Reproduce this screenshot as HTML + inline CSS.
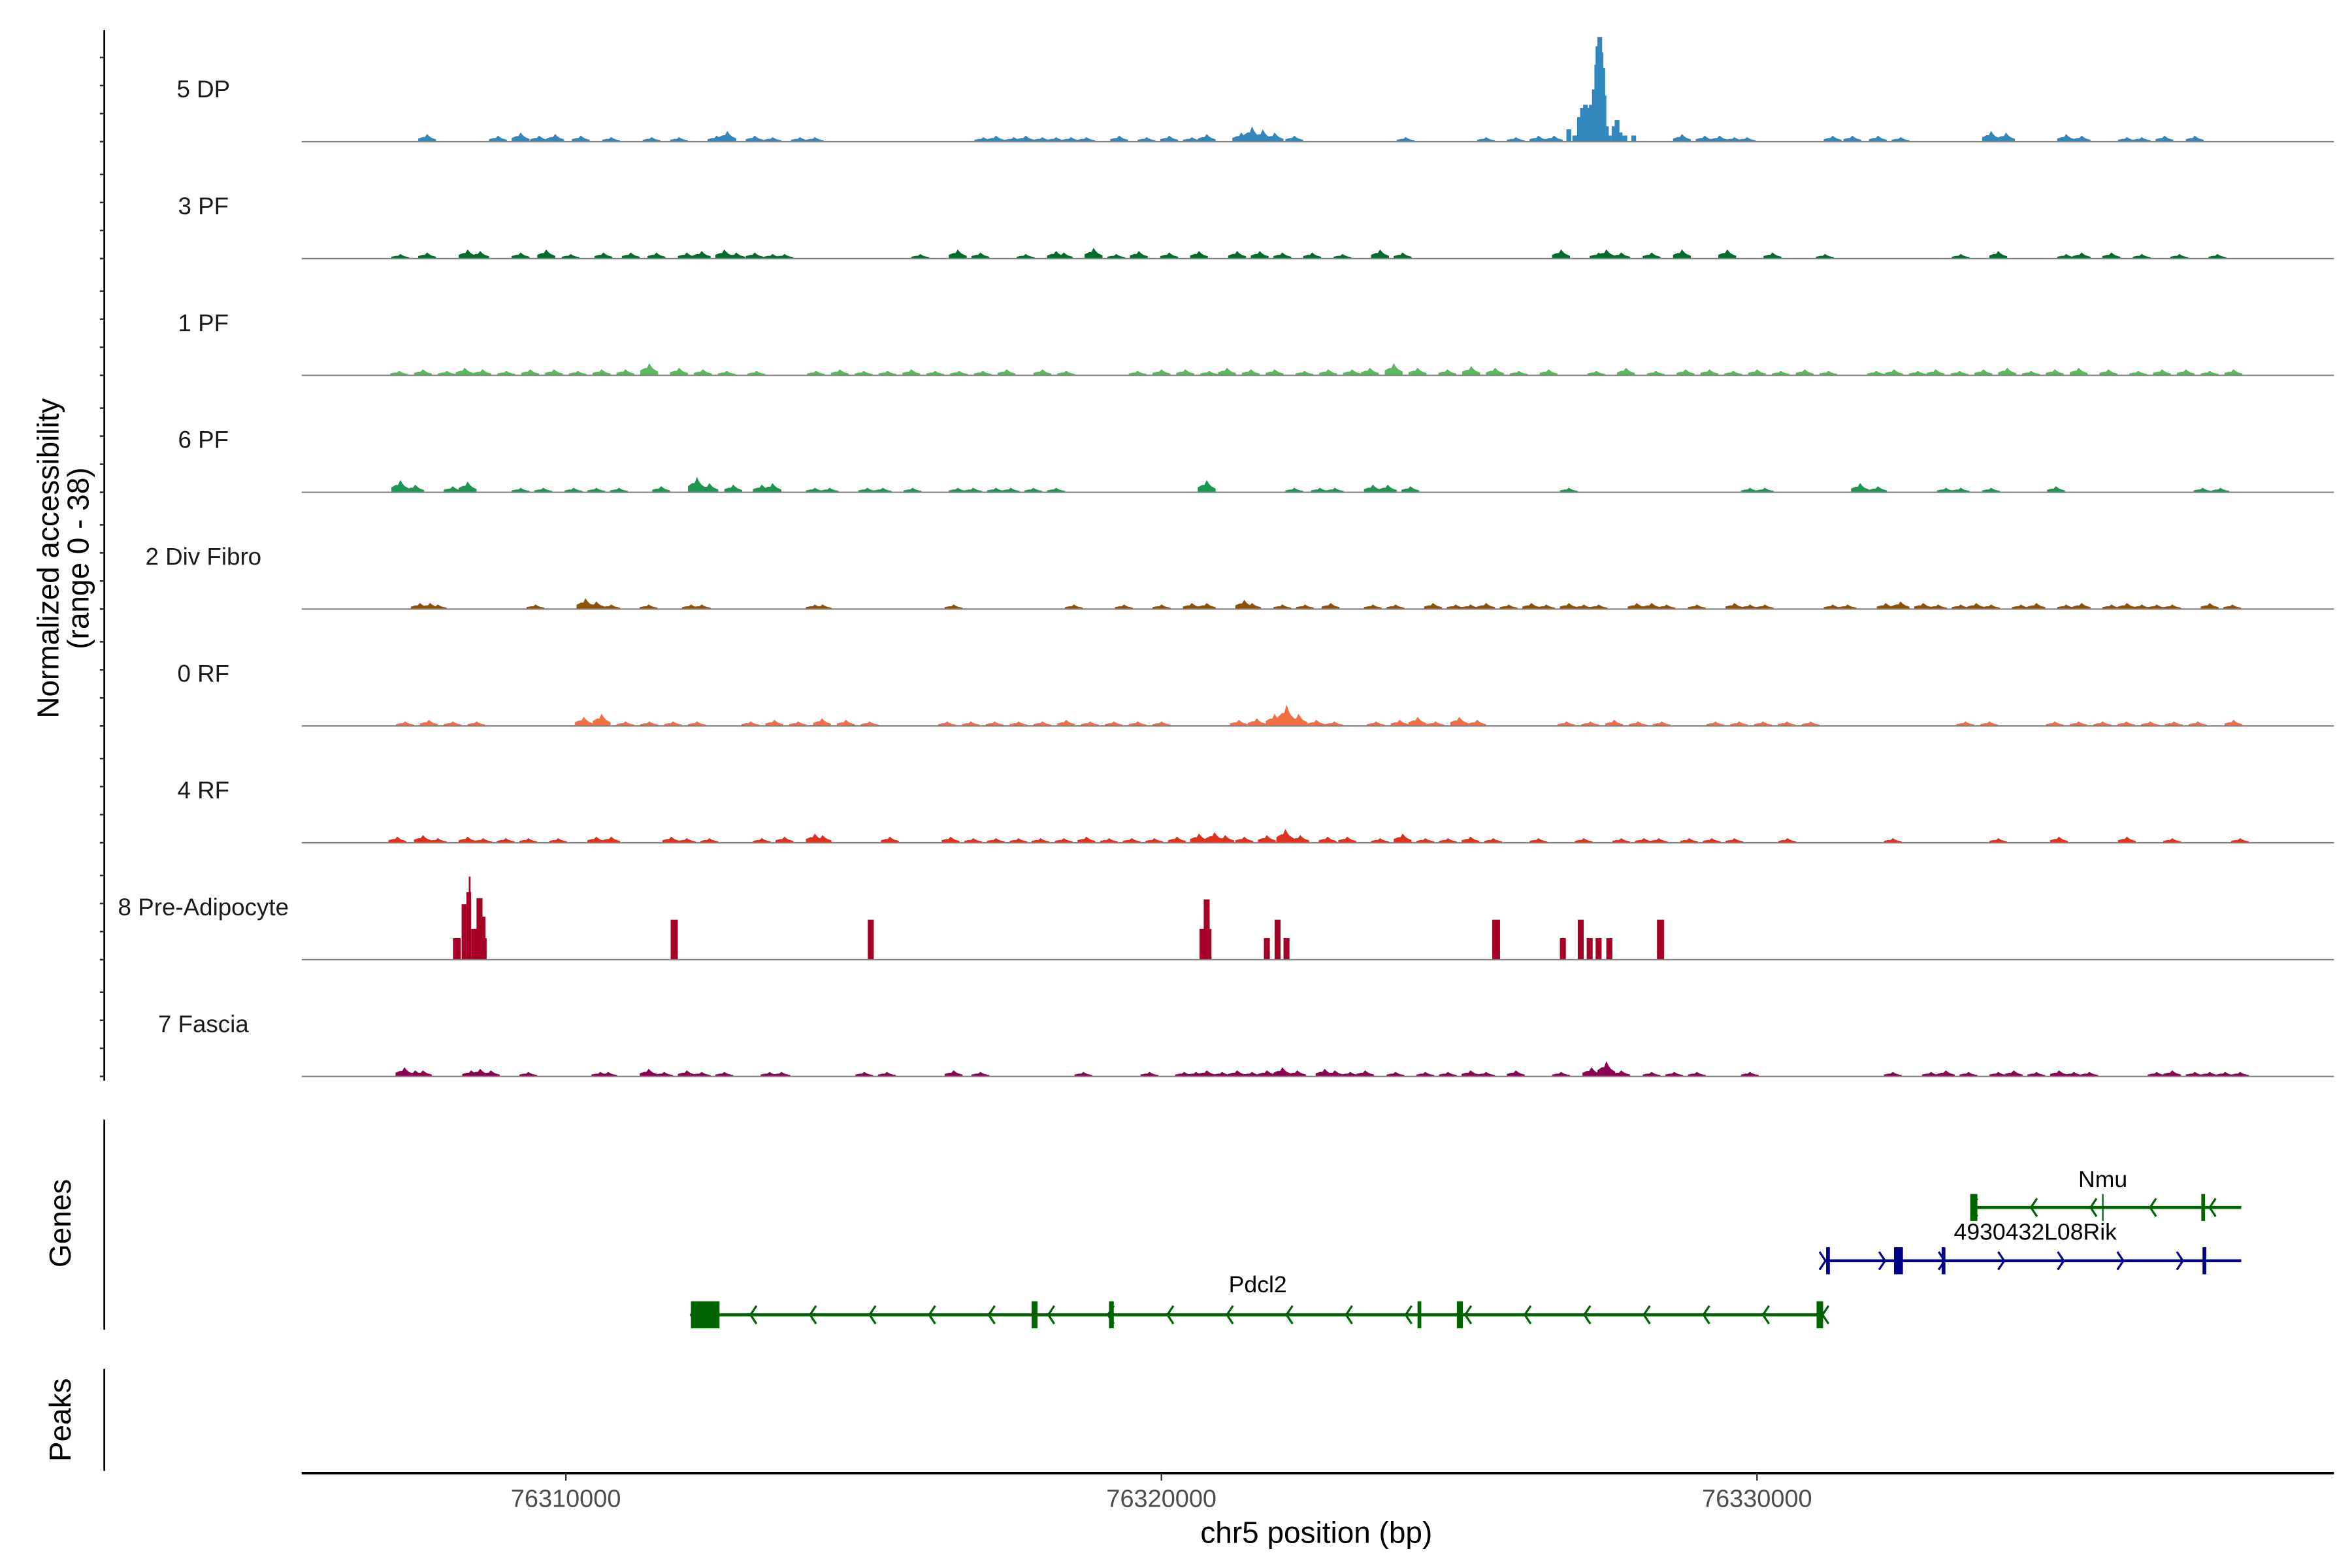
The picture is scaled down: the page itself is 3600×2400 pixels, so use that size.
<!DOCTYPE html>
<html><head><meta charset="utf-8"><style>
html,body{margin:0;padding:0;background:#fff}
svg{display:block}
text{font-family:"Liberation Sans",Arial,sans-serif}
</style></head><body>
<svg id="chart" xmlns="http://www.w3.org/2000/svg" width="3600" height="2400" viewBox="0 0 1567 1044.7" preserveAspectRatio="none">
<rect x="0" y="0" width="1567" height="1045" fill="#fff"/>
<g id="tracks"></g>
<g id="yaxis"></g>
<text transform="translate(39,372) rotate(-90)" text-anchor="middle" font-size="20" fill="#000">Normalized accessibility</text>
<text transform="translate(59,372) rotate(-90)" text-anchor="middle" font-size="20" fill="#000">(range 0 - 38)</text>
<line x1="69.5" y1="746" x2="69.5" y2="886" stroke="#000" stroke-width="1.2"/>
<text transform="translate(47,815) rotate(-90)" text-anchor="middle" font-size="20" fill="#000">Genes</text>
<line x1="69.5" y1="912" x2="69.5" y2="980" stroke="#000" stroke-width="1.2"/>
<text transform="translate(47,946) rotate(-90)" text-anchor="middle" font-size="20" fill="#000">Peaks</text>
<g id="genes"></g>
<g id="xaxis"></g>
<text x="877" y="1028" text-anchor="middle" font-size="20" fill="#000">chr5 position (bp)</text>
</svg>
<script>
// ---- data (positions in kb offset from chr5:76,300,000; heights in normalized units 0-38) ----
const trackNames = ["5 DP","3 PF","1 PF","6 PF","2 Div Fibro","0 RF","4 RF","8 Pre-Adipocyte","7 Fascia"];
const trackColors = ["#3288bd","#006d2c","#5cb85c","#1a9850","#8c510a","#f46d43","#e0301e","#a50026","#8e0152"];
const xTickValues = [76310000,76320000,76330000];
const xTickLabels = ["76310000","76320000","76330000"];

const dpPos = [7.67,8.86,9.24,9.55,9.82,10.25,10.76,11.44,11.90,12.53,12.71,13.17,13.47,13.93,14.18,17.01,17.22,17.52,17.72,18.0,18.23,18.48,18.74,19.29,19.75,20.13,20.51,20.76,21.34,21.52,21.7,21.90,22.23,24.10,25.45,25.95,26.33,26.59,28.74,29.12,29.37,29.62,29.83,31.27,31.60,32.03,32.41,33.93,34.18,35.19,35.45,36.21,36.46,36.84,37.35];
const dpH = [2.5,2,3,2,2.5,2,1.5,1.5,1.5,2,3.5,2,1.5,1.5,1.5,1.5,2,1.5,2,1.5,1.5,1.5,1.5,2,1.5,2,1.5,2.5,3,5,4,3,2,1.5,1.5,1.5,2,2,2.5,2,2,1.5,1.5,2,2,2,1.5,3.5,3,2.5,2,1.5,1.5,2,2];
const dpPeakPos = [26.84,26.94,27.02,27.07,27.12,27.17,27.22,27.27,27.31,27.33,27.36,27.38,27.41,27.43,27.47,27.52,27.60,27.65,27.70,27.78,27.93];
const dpPeakH = [4,2,8,11,12,11,12,17,25,31,34,29,24,15,5,2,5,7,3,2,2];

const pf3Pos = [7.22,7.67,8.35,8.56,9.24,9.67,10.08,10.63,11.09,11.52,12.03,12.28,12.66,12.86,13.17,13.47,13.67,15.95,16.58,16.96,17.72,18.23,18.36,18.86,19.24,19.62,20.13,20.63,21.27,21.65,22.03,22.53,23.04,23.67,24.05,26.71,27.34,27.47,27.72,28.23,28.74,29.50,30.26,31.14,33.42,34.05,35.19,35.45,35.95,36.46,37.09,37.73];
const pf3H = [1.5,2,3,2.5,2,3,1.5,2,2,2,2,2.5,3,2,2,1.5,1.5,1.5,3,2,1.5,2.5,2,3.5,1.5,2.5,2,2.5,2.5,2.5,2,2,1.5,3,2,3,2,3,2,2,3,3,2,1.5,1.5,2.5,1.5,2,2,1.5,1.5,1.5];

const pf1Pos = [7.2,7.6,8.0,8.3,8.6,9.0,9.4,9.8,10.2,10.6,11.0,11.4,11.9,12.3,12.7,13.2,14.2,14.6,15.0,15.4,15.8,16.2,16.6,17.0,17.4,18.0,18.4,19.6,20.0,20.4,20.8,21.1,21.5,21.9,22.4,22.8,23.2,23.5,23.9,24.3,24.8,25.2,25.6,26.0,26.5,27.3,27.8,28.3,28.8,29.2,29.6,30.0,30.4,30.8,31.2,32.0,32.3,32.7,33.0,33.4,33.8,34.2,34.6,35.0,35.4,35.9,36.4,36.8,37.2,37.6,38.0];
const pf1H = [1.5,2,1.5,2.5,2,1.5,2,2,1.5,2,2,4,2.5,2,1.5,1.5,1.5,2,1.5,1.5,2,1.5,1.5,1.5,2,2,1.5,1.5,2,2,1.5,2.5,2,2,1.5,2,2,2.5,4,2.5,2,3,2.5,1.5,2,1.5,2.5,1.5,2,2,1.5,2,1.5,2,1.5,1.5,2,1.5,2,1.5,2,2.5,1.5,2,2.5,2,1.5,2,2,1.5,2];

const pf6Pos = [7.22,7.47,8.10,8.35,9.24,9.62,10.13,10.51,10.89,11.60,12.20,12.41,12.81,13.29,13.47,14.18,14.43,15.06,15.32,15.82,16.58,16.84,17.22,17.47,17.85,18.23,20.76,22.23,22.66,22.91,23.55,23.80,24.18,26.84,29.88,30.13,31.73,32.03,33.17,33.42,33.93,35.02,37.48,37.78];
const pf6H = [4,2.5,2,3.5,1.5,1.5,1.5,1.5,1.5,2,5,3,2.5,2.5,3,1.5,1.5,1.5,1.5,1.5,1.5,1.5,1.5,1.5,1.5,1.5,4,1.5,1.5,1.5,2.5,2.5,2,1.5,1.5,1.5,3,2,1.5,1.5,1.5,2,1.5,1.5];

const divPos = [7.55,7.72,7.85,9.49,10.33,10.51,10.76,11.39,12.10,12.28,14.18,14.31,16.51,18.53,19.37,20.00,20.51,20.76,21.39,21.52,22.03,22.41,22.84,23.55,23.93,24.56,24.94,25.19,25.45,25.83,26.21,26.46,26.84,27.09,27.34,27.98,28.23,28.48,28.99,29.62,29.88,30.13,31.27,31.52,32.16,32.41,32.79,33.04,33.42,33.68,33.93,34.43,34.69,35.19,35.45,35.95,36.21,36.46,36.71,36.97,37.60,37.98];
const divH = [2,2,1.5,1.5,3.5,2.5,1.5,1.5,1.5,1.5,1.5,1.5,1.5,1.5,1.5,1.5,2,2,3,2,1.5,1.5,2,1.5,1.5,2,1.5,1.5,2,1.5,2,1.5,2,1.5,1.5,2,2,1.5,1.5,2,1.5,1.5,1.5,1.5,2,2.5,2,1.5,1.5,2,1.5,1.5,2,1.5,2,1.5,2,1.5,1.5,1.5,2,1.5];

const rf0Pos = [7.3,7.7,8.1,8.5,10.3,10.6,11.0,11.4,11.8,12.2,13.1,13.5,13.9,14.3,14.7,15.1,16.4,16.8,17.2,17.6,18.0,18.4,18.8,19.2,19.6,20.0,21.3,21.6,21.9,22.1,22.3,22.6,22.9,23.6,24.0,24.3,24.6,25.0,25.3,26.8,27.2,27.6,28.0,28.4,29.3,29.7,30.1,30.5,30.9,33.5,33.9,35.0,35.4,35.8,36.2,36.6,37.0,37.4,38.0];
const rf0H = [1.5,2,1.5,1.5,3,4,1.5,1.5,1.5,1.5,1.5,2,1.5,2.5,2,1.5,1.5,1.5,1.5,1.5,1.5,2,1.5,1.5,1.5,1.5,2,2.5,4,7,4,2,1.5,1.5,2,3,1.5,3,2,1.5,1.5,2,1.5,1.5,1.5,1.5,1.5,1.5,1.5,1.5,1.5,1.5,1.5,1.5,1.5,1.5,1.5,1.5,2];

const rf4Pos = [7.17,7.60,7.85,8.35,8.61,8.99,9.37,9.87,10.51,10.76,11.77,12.03,12.41,13.29,13.67,14.18,14.31,15.44,16.46,16.84,17.22,17.60,17.97,18.36,18.74,19.12,19.50,19.88,20.26,20.63,20.89,21.07,21.39,21.77,22.08,22.33,22.79,23.12,23.67,24.05,24.43,24.81,25.19,25.57,26.33,27.09,27.72,28.10,28.35,28.86,29.24,29.62,30.51,32.28,34.05,35.07,36.21,36.97,38.11];
const rf4H = [2,2.5,1.5,2,1.5,1.5,1.5,1.5,2,2,2,1.5,1.5,1.5,2,3,2.5,2,2,1.5,1.5,1.5,1.5,1.5,2,1.5,1.5,1.5,2,3,3.5,2.5,2,2.5,4.5,2.5,2,2,1.5,3,1.5,1.5,2,1.5,1.5,1.5,1.5,1.5,1.5,1.5,1.5,1.5,1.5,1.5,1.5,2,2,1.5,1.5];

const preadPos = [8.17,8.29,8.37,8.385,8.46,8.55,8.60,8.63,11.82,15.12,20.74,20.76,21.77,21.95,22.10,25.62,26.74,27.04,27.19,27.34,27.52,28.38];
const preadH = [7,18,22,27,10,20,14,7,13,13,10,19.6,7,13,7,13,7,13,7,7,7,13];
const preadW = [0.13,0.08,0.08,0.03,0.1,0.1,0.1,0.08,0.12,0.1,0.2,0.1,0.1,0.1,0.1,0.13,0.1,0.1,0.1,0.1,0.1,0.12];

const fasPos = [7.29,7.47,7.60,8.41,8.56,8.74,9.37,10.58,10.71,11.39,11.65,12.03,12.28,12.66,13.42,13.62,15.01,15.39,16.51,16.96,18.69,19.80,20.38,20.58,20.76,21.02,21.27,21.52,21.77,22.03,22.28,22.74,22.91,23.17,23.42,23.93,24.43,24.81,25.19,25.45,25.95,26.71,27.22,27.47,27.72,28.23,28.61,28.99,29.88,32.28,32.92,33.17,33.55,34.05,34.31,34.69,35.07,35.32,35.58,36.71,36.97,37.35,37.60,37.86,38.11];
const fasH = [3,2,2,2,2.5,2,1.5,1.5,1.5,2.5,1.5,2,1.5,1.5,1.5,1.5,1.5,1.5,2,1.5,1.5,1.5,1.5,1.5,2,1.5,2,1.5,2,3,2,2.5,2,1.5,2,1.5,1.5,1.5,2,1.5,2,1.5,3,5,2,1.5,1.5,1.5,1.5,1.5,1.5,2,1.5,1.5,2,1.5,2,1.5,1.5,1.5,2,1.5,1.5,1.5,1.5];

// gene models (kb)
const pdcl2Span = [12.10,31.11];
const pdcl2Exons = [[12.10,12.58],[17.82,17.92],[19.12,19.20],[24.30,24.36],[24.96,25.06],[31.00,31.11]];
const nmuSpan = [33.60,38.13];
const nmuExons = [[33.58,33.70],[37.46,37.52]];
const rikSpan = [31.15,38.13];
const rikExons = [[31.16,31.22],[32.30,32.45],[33.10,33.16],[37.48,37.54]];

// ---- scales ----
const NS = "http://www.w3.org/2000/svg";
const xs = kb => 377 + (kb - 10) * 39.68;
const xsBp = bp => 377 + (bp - 76310000) / 1000 * 39.68;
const baselines = [94.4,172.3,250.1,328,405.8,483.7,561.5,639.4,717.2];
const yUnit = 2.05;
const ys = (i, v) => baselines[i] - v * yUnit;

function mk(tag, attrs, parent){
  const e = document.createElementNS(NS, tag);
  for (const k in attrs) e.setAttribute(k, attrs[k]);
  parent.appendChild(e);
  return e;
}
const gT = document.getElementById('tracks');

const seriesPos = [dpPos,pf3Pos,pf1Pos,pf6Pos,divPos,rf0Pos,rf4Pos,null,fasPos];
const seriesH = [dpH,pf3H,pf1H,pf6H,divH,rf0H,rf4H,null,fasH];

function mountain(i, pos, h, w){
  const x = xs(pos), hw = w*39.68/2, b = baselines[i], top = ys(i,h), hh = b-top;
  return [[x-hw,b],[x-hw,b-hh*0.4],[x-hw*0.5,b-hh*0.6],[x-hw*0.25,b-hh*0.6],[x,top],[x+hw*0.25,b-hh*0.7],[x+hw*0.5,b-hh*0.5],[x+hw,b-hh*0.3],[x+hw,b]].map(p=>p[0].toFixed(2)+','+p[1].toFixed(2)).join(' ');
}

for (let i = 0; i < trackNames.length; i++){
  const g = mk('g', {}, gT);
  
  
  const lab = mk('text', {x:135.5, y:baselines[i]-29.5, 'text-anchor':'middle', 'font-size':16, fill:'#1a1a1a'}, g);
  lab.textContent = trackNames[i];
  
  
  const P = seriesPos[i], H = seriesH[i];
  if (P){
    for (let j = 0; j < P.length; j++){
      const p = mk('polygon', {points: mountain(i, P[j], H[j] ?? 1.5, 0.3), fill: trackColors[i]}, g);
      
      
    }
  }
  if (i === 0){
    for (let j = 0; j < dpPeakPos.length; j++){
      const x = xs(dpPeakPos[j]), top = ys(0, dpPeakH[j]);
      const r = mk('rect', {x:(x-1.6).toFixed(2), y:top.toFixed(2), width:3.2, height:(baselines[0]-top).toFixed(2), fill:trackColors[0]}, g);
      
      
    }
  }
  if (i === 7){
    for (let j = 0; j < preadPos.length; j++){
      const w = preadW[j]*39.68, x = xs(preadPos[j]), top = ys(7, preadH[j]);
      const r = mk('rect', {x:(x-w/2).toFixed(2), y:top.toFixed(2), width:w.toFixed(2), height:(baselines[7]-top).toFixed(2), fill:trackColors[7]}, g);
      
      
    }
  }
  const bl = mk('line', {x1:201, x2:1555, y1:baselines[i], y2:baselines[i], stroke:'#7f7f7f', 'stroke-width':0.9}, g);
  
  
}

// y axis
const gY = document.getElementById('yaxis');
const ya = mk('line', {x1:69.5, x2:69.5, y1:20, y2:720, stroke:'#000', 'stroke-width':1.2}, gY);


for (let i = 0; i < baselines.length; i++){
  for (let k = 0; k < 4; k++){
    const y = baselines[i] - k*18.7;
    const t = mk('line', {x1:66.5, x2:69.5, y1:y, y2:y, stroke:'#333', 'stroke-width':1.1}, gY);
    
    
  }
}

// genes
const gG = document.getElementById('genes');
function gene(name, span, exons, y, color, dir, labelX, labelY){
  const g = mk('g', {}, gG);
  
  
  const ln = mk('line', {x1:xs(span[0]), x2:xs(span[1]), y1:y, y2:y, stroke:color, 'stroke-width':2}, g);
  
  
  for (let a = xs(span[0]); a <= xs(span[1]) + 0.5; a += 39.68){
    const d = dir < 0 ? `M${a+4},${y-6} L${a},${y} L${a+4},${y+6}` : `M${a-4},${y-6} L${a},${y} L${a-4},${y+6}`;
    const ar = mk('path', {d:d, fill:'none', stroke:color, 'stroke-width':1.4}, g);
    
    
  }
  for (const ex of exons){
    const x0 = xs(ex[0]), x1 = xs(ex[1]);
    const r = mk('rect', {x:x0, y:y-9, width:Math.max(2.5, x1-x0), height:18, fill:color}, g);
    
    
  }
  const t = mk('text', {x:labelX, y:labelY, 'text-anchor':'middle', 'font-size':15.5, fill:'#000'}, g);
  t.textContent = name;
  
  
  return g;
}
gene('Pdcl2', pdcl2Span, pdcl2Exons, 876, '#006400', -1, 838, 861);
gene('Nmu', nmuSpan, nmuExons, 804.5, '#006400', -1, 1401, 791);
const nmuTick = mk('line', {x1:1401, x2:1401, y1:795.5, y2:813.5, stroke:'#006400', 'stroke-width':1}, gG);


gene('4930432L08Rik', rikSpan, rikExons, 840, '#00008b', 1, 1356, 826);

// x axis
const gX = document.getElementById('xaxis');
const xl = mk('line', {x1:201, x2:1555, y1:981.5, y2:981.5, stroke:'#000', 'stroke-width':1.6}, gX);


for (let i = 0; i < xTickValues.length; i++){
  const x = xsBp(xTickValues[i]);
  const t = mk('line', {x1:x, x2:x, y1:981.5, y2:986.5, stroke:'#333', 'stroke-width':1}, gX);
  
  
  const l = mk('text', {x:x, y:1004, 'text-anchor':'middle', 'font-size':16.5, fill:'#4d4d4d'}, gX);
  l.textContent = xTickLabels[i];
  
  
}
</script>
</body></html>
